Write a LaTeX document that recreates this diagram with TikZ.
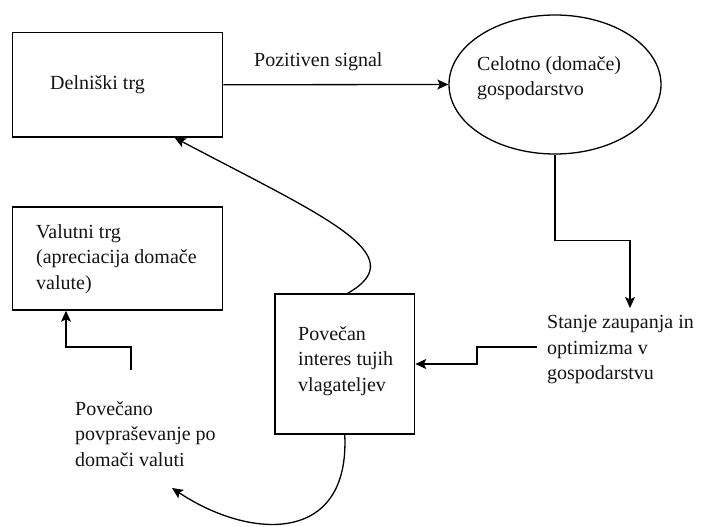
\documentclass[tikz,border=0pt]{standalone}
\usepackage{fontspec}
\setmainfont{Liberation Serif}
\newfontfamily\tnrfont{Liberation Serif}
\usetikzlibrary{arrows.meta,shapes.geometric}
\tikzset{
  boxnode/.style={draw=black, line width=1.5pt, rectangle, inner sep=0pt},
  ellnode/.style={draw=black, line width=1.3pt, ellipse, inner sep=0pt},
  txt/.style={inner sep=0pt, align=left, font=\tnrfont\fontsize{20}{25.5}\selectfont, text=black!92},
  arr/.style={line width=1.3pt, -{Stealth[length=11pt,width=10pt,inset=2.5pt]}}
}
\begin{document}
\begin{tikzpicture}[x=1pt,y=-1pt]
\useasboundingbox[fill=white] (0,0) rectangle (705,527);
% boxes
\node[boxnode, minimum width=210pt, minimum height=104.5pt] (delnisk) at (117.7,84.75) {};
\node[boxnode, minimum width=210pt, minimum height=103pt] (valutni) at (117.7,258.5) {};
\node[boxnode, minimum width=139.5pt, minimum height=140pt] (povecan) at (344.75,364) {};
\node[ellnode, minimum width=212pt, minimum height=139pt] (ell) at (555,84.5) {};
% texts
\node[txt, anchor=base west] (tdelnisk) at (50,89) {Delniški trg};
\node[txt, anchor=base west] (tpoz) at (254,67) {Pozitiven signal};
\node[txt, anchor=north west] (tell) at (477,56.3) {Celotno (domače)\\gospodarstvo};
\node[txt, anchor=north west] (tvalutni) at (36,224.3) {Valutni trg\\(apreciacija domače\\valute)};
\node[txt, anchor=north west] (tpovecan) at (298,326.3) {Povečan\\interes tujih\\vlagateljev};
\node[txt, anchor=north west] (stanje) at (547,315.3) {Stanje zaupanja in\\optimizma v\\gospodarstvu};
\node[txt, anchor=north west] (povecano) at (75,401.3) {Povečano\\povpraševanje po\\domači valuti};
% helper coordinates
\coordinate (stanjetop) at (630,308);
\coordinate (stanjeout) at (537,347);
\coordinate (pvstart) at (131,370);
\coordinate (pvtip) at (172,488);
% connectors
\draw[arr] (delnisk.east) -- (ell.west);
\draw[arr] (ell.south) -- ++(0,86) -| (stanjetop);
\draw[arr] (stanjeout) -- ++(-60,0) |- (povecan.east);
\draw[arr] ([xshift=3pt]povecan.north) .. controls (415,255) and (325,217) .. ([xshift=57pt]delnisk.south);
\draw[arr] (povecan.south) .. controls (350,545) and (250,540) .. (pvtip);
\draw[arr] (pvstart) -- ++(0,-23) -| ([xshift=-51.7pt]valutni.south);
\end{tikzpicture}
\end{document}
